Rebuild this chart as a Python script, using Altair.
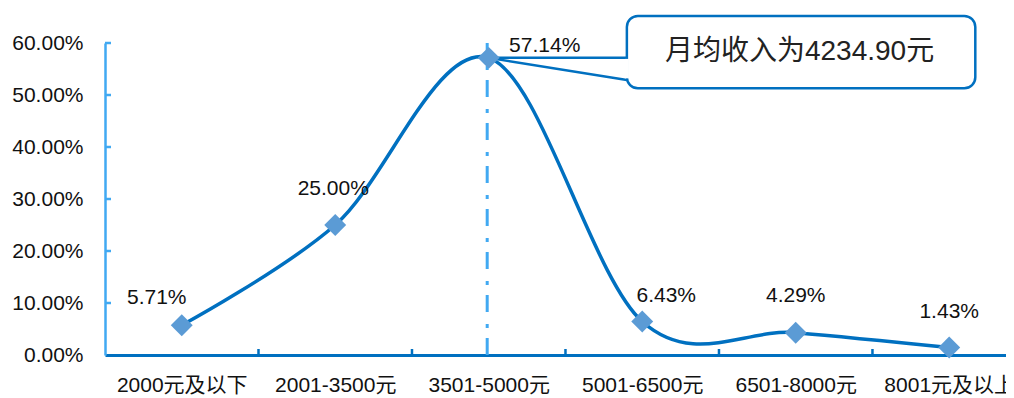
import altair as alt
import pandas as pd

# ---- data ----
categories = ["2000元及以下", "2001-3500元", "3501-5000元", "5001-6500元", "6501-8000元", "8001元及以上"]
shares = [0.0571, 0.2500, 0.5714, 0.0643, 0.0429, 0.0143]
share_labels = ["5.71%", "25.00%", "57.14%", "6.43%", "4.29%", "1.43%"]
y_ticks = [0.0, 0.1, 0.2, 0.3, 0.4, 0.5, 0.6]
x_boundaries = [0.5, 1.5, 2.5, 3.5, 4.5]
mean_line_pos = [1.99]  # 月均收入 4234.90 falls in 3501-5000
callout_text = "月均收入为4234.90元"

# ---- styling ----
FONT = "Liberation Sans, Noto Sans CJK SC"
LINE_BLUE = "#0070c0"
LIGHT_BLUE = "#41a9f2"
MARKER_BLUE = "#5b9bd5"
# per-label (dx, dy) offsets in pixels
label_offsets = [(-25, -27), (-2, -36), (56, -12), (24, -26), (0, -37), (0, -36)]
# callout box extent in data units (x: category index, y: share)
box_x = (2.90, 5.17)
box_y = (0.513, 0.652)
wedge_y = (0.529, 0.5714)

W, H = 901, 312
xscale = alt.Scale(domain=[-0.5, 5.37], nice=False, zero=False)
yscale = alt.Scale(domain=[0, 0.6], nice=False)

df = pd.DataFrame({"idx": list(range(len(categories))), "cat": categories,
                   "share": shares, "lab": share_labels})

label_expr = "[" + ",".join("'" + c + "'" for c in categories) + "][datum.value]"

base = alt.Chart(df)

line = base.mark_line(interpolate="cardinal", color=LINE_BLUE, strokeWidth=3.5).encode(
    x=alt.X("idx:Q", scale=xscale, title=None,
            axis=alt.Axis(values=list(range(len(categories))), labelExpr=label_expr,
                          tickSize=0, labelPadding=19, domainColor=LINE_BLUE, domainWidth=3,
                          grid=False, labelFontSize=21, labelColor="#111", labelFont=FONT,
                          labelOverlap=False, labelFlush=False, labelBound=False)),
    y=alt.Y("share:Q", scale=yscale, title=None,
            axis=alt.Axis(values=y_ticks, format=".2%", tickSize=0, labelPadding=22,
                          domainColor=LIGHT_BLUE, domainWidth=2.5, grid=False,
                          labelFontSize=21, labelColor="#111", labelFont=FONT)),
)

def X(field):
    return alt.X(field, scale=xscale, title=None)

def Y(field):
    return alt.Y(field, scale=yscale, title=None)

mean_rule = alt.Chart(pd.DataFrame({"x": mean_line_pos, "y0": [0.0], "y1": [0.6]})).mark_rule(
    color=LIGHT_BLUE, strokeWidth=3, strokeDash=[17, 10, 4, 12]).encode(
    x=X("x:Q"), y=Y("y0:Q"), y2="y1:Q")

ytick_rules = alt.Chart(pd.DataFrame({"v": y_ticks[1:]})).mark_rule(
    color=LIGHT_BLUE, strokeWidth=2.5).encode(
    y=Y("v:Q"), x=alt.value(0), x2=alt.value(6))

xtick_rules = alt.Chart(pd.DataFrame({"b": x_boundaries})).mark_rule(
    color=LINE_BLUE, strokeWidth=2.5).encode(
    x=X("b:Q"), y=alt.value(H), y2=alt.value(H - 6))

conn = pd.DataFrame({"x0": [2, 2], "y0": [0.5714, 0.5714],
                     "x1": [box_x[0], box_x[0]], "y1": [wedge_y[1], wedge_y[0]]})
connectors = alt.Chart(conn).mark_rule(color=LINE_BLUE, strokeWidth=2.5).encode(
    x=X("x0:Q"), y=Y("y0:Q"), x2="x1:Q", y2="y1:Q")

box = alt.Chart(pd.DataFrame({"x0": [box_x[0]], "x1": [box_x[1]],
                              "y0": [box_y[0]], "y1": [box_y[1]]})).mark_rect(
    fill="white", stroke=LINE_BLUE, strokeWidth=2.5, cornerRadius=11).encode(
    x=X("x0:Q"), x2="x1:Q", y=Y("y0:Q"), y2="y1:Q")

gap = alt.Chart(pd.DataFrame({"x": [box_x[0]], "y0": [wedge_y[0] + 0.003],
                              "y1": [wedge_y[1] - 0.002]})).mark_rule(
    color="white", strokeWidth=4).encode(
    x=X("x:Q"), y=Y("y0:Q"), y2="y1:Q")

callout = alt.Chart(pd.DataFrame({"x": [(box_x[0] + box_x[1]) / 2 - 0.01],
                                  "y": [(box_y[0] + box_y[1]) / 2], "t": [callout_text]})).mark_text(
    fontSize=28, font=FONT, color="#222", align="center", baseline="middle").encode(
    x=X("x:Q"), y=Y("y:Q"), text="t:N")

points = base.mark_point(shape="diamond", filled=True, opacity=1, size=480,
                         color=MARKER_BLUE).encode(x=X("idx:Q"), y=Y("share:Q"))

label_layers = []
for i, (dx, dy) in enumerate(label_offsets):
    label_layers.append(
        alt.Chart(df.iloc[[i]]).mark_text(fontSize=21, font=FONT, color="#111",
                                          align="center", baseline="middle", dx=dx, dy=dy).encode(
            x=X("idx:Q"), y=Y("share:Q"), text="lab:N"))

chart = alt.layer(mean_rule, ytick_rules, xtick_rules, line, connectors, box, gap,
                  callout, points, *label_layers).properties(
    width=W, height=H,
    autosize=alt.AutoSizeParams(type="none"),
    padding={"left": 97, "top": 35, "right": 0, "bottom": 45},
).configure(background="white").configure_view(stroke=None).configure_axis(grid=False)

chart.save("out.html", embed_options={"renderer": "svg", "actions": False})
